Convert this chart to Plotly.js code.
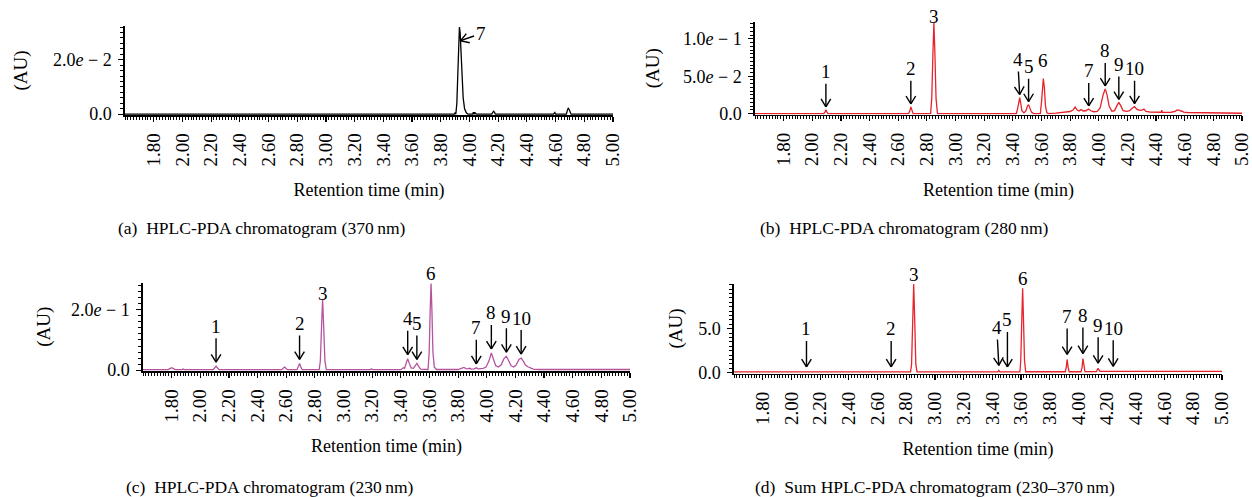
<!DOCTYPE html>
<html>
<head>
<meta charset="utf-8">
<script src="https://cdn.plot.ly/plotly-3.0.1.min.js"></script>
<style>
  html, body { margin: 0; padding: 0; background: #fff; }
  #chart { width: 1252px; height: 497px; }
</style>
</head>
<body>
<div id="chart"></div>
<script>
// ---------- DATA ----------
// (a) 370 nm
const timeA = [1.60, 3.895, 3.900, 3.905, 3.912, 3.918, 3.924, 3.930, 3.935, 3.941, 3.948, 3.956, 3.966, 3.978, 3.990,
               4.022, 4.027, 4.032, 4.037, 4.042, 4.047, 4.155, 4.162, 4.168, 4.174, 4.180,
               4.585, 4.590, 4.595, 4.600, 4.675, 4.682, 4.688, 4.694, 4.700, 4.708, 5.00];
const absA  = [0, 0, 0.0006, 0, 0.004, 0.014, 0.026, 0.032, 0.030, 0.022, 0.013, 0.006, 0.002, 0.0005, 0,
               0, 0.0007, 0, 0.0007, 0, 0, 0, 0.0008, 0.0011, 0.0008, 0,
               0, 0.0006, 0.0006, 0, 0, 0.0014, 0.0022, 0.0018, 0.0008, 0, 0];

// (b) 280 nm
const timeB = [1.60, 2.080, 2.088, 2.095, 2.102, 2.110, 2.672, 2.680, 2.688, 2.696, 2.704,
               2.826, 2.834, 2.842, 2.849, 2.856, 2.864, 2.874,
               3.425, 3.435, 3.442, 3.448, 3.455, 3.463, 3.478, 3.492, 3.502, 3.510, 3.518, 3.530, 3.545,
               3.592, 3.600, 3.607, 3.613, 3.620, 3.628, 3.638, 3.650,
               3.700, 3.760, 3.800, 3.822, 3.835, 3.848, 3.862, 3.877, 3.892, 3.910, 3.928, 3.945, 3.965,
               3.990, 4.010, 4.030, 4.045, 4.058, 4.072, 4.092, 4.110, 4.125, 4.140, 4.155, 4.170,
               4.195, 4.215, 4.235, 4.250, 4.265, 4.285, 4.300, 4.315, 4.330, 4.360,
               4.437, 4.440, 4.443, 4.500, 4.530, 4.548, 4.565, 4.575, 4.582, 4.592, 4.620, 4.800, 5.000];
const absB  = [0, 0, 0.002, 0.005, 0.002, 0, 0, 0.003, 0.009, 0.004, 0,
               0, 0.02, 0.08, 0.121, 0.08, 0.02, 0,
               0, 0.008, 0.018, 0.0215, 0.014, 0.004, 0.001, 0.004, 0.010, 0.012, 0.008, 0.002, 0,
               0, 0.015, 0.040, 0.047, 0.035, 0.010, 0.001, 0,
               0.0006, 0.0015, 0.0028, 0.005, 0.0088, 0.005, 0.0035, 0.0053, 0.0035, 0.0038, 0.0062, 0.0038, 0.0025,
               0.003, 0.008, 0.025, 0.033, 0.025, 0.010, 0.0032, 0.004, 0.010, 0.015, 0.010, 0.004,
               0.003, 0.004, 0.0075, 0.0093, 0.006, 0.0042, 0.0045, 0.006, 0.003, 0.0019,
               0.0018, 0.0045, 0.0018, 0.0017, 0.0028, 0.0049, 0.0042, 0.0030, 0.0036, 0.0020, 0.0015, 0.0009, 0.0005];

// (c) 230 nm
const timeC = [1.60, 1.775, 1.788, 1.800, 1.812, 1.825, 1.872, 1.880, 1.888,
               2.090, 2.100, 2.110, 2.120, 2.132, 2.568, 2.578, 2.588, 2.598, 2.608,
               2.675, 2.684, 2.693, 2.702, 2.711, 2.830, 2.838, 2.847, 2.854, 2.861, 2.870, 2.880,
               3.185, 3.195, 3.205, 3.400, 3.410, 3.418, 3.426, 3.438, 3.448, 3.458, 3.472,
               3.488, 3.500, 3.512, 3.522, 3.538, 3.590, 3.598, 3.605, 3.611, 3.617, 3.624, 3.634, 3.650,
               3.800, 3.825, 3.840, 3.855, 3.868, 3.880, 3.893, 3.912, 3.927, 3.940, 3.955, 3.975, 3.995,
               4.015, 4.032, 4.046, 4.062, 4.080, 4.100, 4.120, 4.137, 4.152, 4.170, 4.188,
               4.205, 4.225, 4.240, 4.255, 4.270, 4.287, 4.305, 4.325, 4.360, 5.000];
const absC  = [0.0015, 0.0015, 0.005, 0.0077, 0.005, 0.0015, 0.0015, 0.0035, 0.0015,
               0.0015, 0.007, 0.013, 0.007, 0.0015, 0.0015, 0.006, 0.010, 0.006, 0.0015,
               0.0015, 0.010, 0.022, 0.010, 0.0015, 0.0015, 0.03, 0.15, 0.235, 0.15, 0.03, 0.002,
               0.0015, 0.004, 0.0015, 0.0015, 0.005, 0.008, 0.006, 0.022, 0.038, 0.024, 0.007,
               0.006, 0.015, 0.022, 0.014, 0.003, 0.002, 0.06, 0.20, 0.288, 0.20, 0.06, 0.01, 0.002,
               0.002, 0.006, 0.009, 0.005, 0.004, 0.006, 0.003, 0.004, 0.0075, 0.004, 0.004, 0.006, 0.010,
               0.030, 0.057, 0.036, 0.015, 0.010, 0.017, 0.038, 0.046, 0.032, 0.014, 0.010,
               0.017, 0.035, 0.040, 0.030, 0.017, 0.011, 0.006, 0.003, 0.002, 0.002];

// (d) sum 230–370 nm
const timeD = [1.60, 2.830, 2.837, 2.845, 2.852, 2.859, 2.867, 2.875,
               3.438, 3.445, 3.452, 3.592, 3.598, 3.605, 3.611, 3.617, 3.624, 3.632,
               3.908, 3.915, 3.921, 3.928, 3.935, 4.018, 4.025, 4.031, 4.038, 4.045,
               4.125, 4.132, 4.137, 4.143, 4.150, 4.300, 5.000];
const absD  = [0.08, 0.08, 0.9, 6.0, 10.1, 6.0, 0.9, 0.08,
               0.08, 0.25, 0.08, 0.08, 1.4, 6.0, 9.6, 6.0, 1.4, 0.1,
               0.1, 0.6, 1.5, 0.6, 0.1, 0.1, 0.6, 1.6, 0.6, 0.12,
               0.12, 0.35, 0.5, 0.3, 0.15, 0.15, 0.15];

// peak labels (numbers) with retention time and apex height
const peakLabels = ['1', '2', '3', '4', '5', '6', '7', '8', '9', '10'];
const peakTimeB = [2.095, 2.688, 2.849, 3.448, 3.510, 3.613, 3.930, 4.045, 4.140, 4.250];
const peakTopB  = [0.005, 0.009, 0.121, 0.0215, 0.012, 0.047, 0.0062, 0.033, 0.015, 0.0093];
const peakTimeC = [2.110, 2.693, 2.854, 3.448, 3.512, 3.611, 3.927, 4.032, 4.137, 4.240];
const peakTopC  = [0.013, 0.022, 0.235, 0.038, 0.022, 0.288, 0.0075, 0.057, 0.046, 0.040];
const peakTimeD = [2.105, 2.695, 2.852, 3.445, 3.505, 3.611, 3.921, 4.031, 4.137, 4.242];
const peakTopD  = [0.08, 0.08, 10.1, 0.25, 0.08, 9.6, 1.5, 1.6, 0.5, 0.15];
const peakLabelA = '7';
const peakTimeA = 3.938;
const peakFlankA = 0.027;

// axis ticks
const xTickVals = [1.8, 2.0, 2.2, 2.4, 2.6, 2.8, 3.0, 3.2, 3.4, 3.6, 3.8, 4.0, 4.2, 4.4, 4.6, 4.8, 5.0];
const xTickText = ['1.80', '2.00', '2.20', '2.40', '2.60', '2.80', '3.00', '3.20', '3.40', '3.60', '3.80',
                   '4.00', '4.20', '4.40', '4.60', '4.80', '5.00'];
const yTickValsA = [0, 0.02];
const yTickTextA = ['0.0', '2.0<i>e</i> − 2'];
const yTickValsB = [0, 0.05, 0.1];
const yTickTextB = ['0.0', '5.0<i>e</i> − 2', '1.0<i>e</i> − 1'];
const yTickValsC = [0, 0.2];
const yTickTextC = ['0.0', '2.0<i>e</i> − 1'];
const yTickValsD = [0, 5];
const yTickTextD = ['0.0', '5.0'];

const captions = [
  '(a)\u00a0\u00a0HPLC-PDA chromatogram (370\u2009nm)',
  '(b)\u00a0\u00a0HPLC-PDA chromatogram (280\u2009nm)',
  '(c)\u00a0\u00a0HPLC-PDA chromatogram (230\u2009nm)',
  '(d)\u00a0\u00a0Sum HPLC-PDA chromatogram (230–370\u2009nm)'
];
const xTitle = 'Retention time (min)';
const yTitle = '(AU)';

// ---------- LAYOUT HELPERS ----------
const W = 1252, H = 497;
const px = v => v / W;
const py = v => 1 - v / H;
const FONT = '"Liberation Serif", "Times New Roman", serif';
const RED = '#e8232b', PURPLE = '#b5539f';

function xAxis(anchor, x0, x1) {
  return {
    anchor, domain: [px(x0), px(x1)], range: [1.6, 5.0],
    showline: true, linecolor: '#000', linewidth: 1.7, mirror: false,
    showgrid: false, zeroline: false,
    ticks: 'outside', ticklen: 5, tickwidth: 1.2, tickcolor: '#000',
    tickmode: 'array', tickvals: xTickVals, ticktext: xTickText,
    tickangle: -90, tickfont: {size: 19}, ticklabelstandoff: 4, ticklabeloverflow: 'allow',
    minor: {tickmode: 'linear', tick0: 0, dtick: 0.02, ticks: 'outside', ticklen: 3, tickwidth: 1, tickcolor: '#000', showgrid: false},
    title: {text: xTitle, font: {size: 18}, standoff: 18},
    fixedrange: true
  };
}
function yAxis(anchor, yTop, yBot, range, vals, text, minorStep, titleGap) {
  return {
    anchor, domain: [py(yBot), py(yTop)], range,
    showline: true, linecolor: '#000', linewidth: 1.7,
    showgrid: false, zeroline: false,
    ticks: 'outside', ticklen: 5, tickwidth: 1.2, tickcolor: '#000',
    tickmode: 'array', tickvals: vals, ticktext: text,
    tickfont: {size: 18}, ticklabelstandoff: 3, ticklabeloverflow: 'allow',
    minor: {tickmode: 'linear', tick0: 0, dtick: minorStep, ticks: 'outside', ticklen: 3, tickwidth: 1, tickcolor: '#000', showgrid: false},
    title: {text: yTitle, font: {size: 19}, standoff: titleGap},
    fixedrange: true
  };
}

// ---------- ANNOTATIONS ----------
const annotations = [];
const ARM = 11, ARM_ANGLE = 0.55;
function addArrow(xr, yr, x, y, label, dx, dy, lift) {
  annotations.push({xref: xr, yref: yr, x, y, text: label, showarrow: true, arrowhead: 0,
    arrowwidth: 1.4, arrowcolor: '#000', ax: dx, ay: dy, yshift: lift, font: {size: 19}});
  const len = Math.hypot(dx, dy), ux = dx / len, uy = dy / len;
  [1, -1].forEach(s => {
    const a = s * ARM_ANGLE;
    const rx = ux * Math.cos(a) - uy * Math.sin(a);
    const ry = ux * Math.sin(a) + uy * Math.cos(a);
    annotations.push({xref: xr, yref: yr, x, y, text: '', showarrow: true, arrowhead: 0,
      arrowwidth: 1.4, arrowcolor: '#000', ax: rx * ARM, ay: ry * ARM, yshift: lift});
  });
}
function addPeakLabels(xr, yr, times, tops, lift, dy, special) {
  peakLabels.forEach((lab, i) => {
    if (lab === '3' || lab === '6') {
      annotations.push({xref: xr, yref: yr, x: times[i], y: tops[i], text: lab, showarrow: false,
        yanchor: 'bottom', yshift: (special && special['top' + lab]) || -3, font: {size: 19}});
    } else {
      const o = (special && special[lab]) || {};
      addArrow(xr, yr, times[i], tops[i], lab, o.dx || 0, o.dy || dy, lift);
    }
  });
}
addArrow('x', 'y', peakTimeA, peakFlankA, peakLabelA, 20, -7, 0);
addPeakLabels('x2', 'y2', peakTimeB, peakTopB, 3, -35, {'4': {dx: -2, dy: -35}, top6: 5, top3: -6});
addPeakLabels('x3', 'y3', peakTimeC, peakTopC, 4, -36, {top3: -7});
addPeakLabels('x4', 'y4', peakTimeD, peakTopD, 5, -38, {'4': {dx: -2, dy: -38}, '5': {dx: 0, dy: -47}});

const capPos = [[262, 228], [904, 228], [270, 487], [935, 487]];
captions.forEach((c, i) => {
  annotations.push({xref: 'paper', yref: 'paper', x: px(capPos[i][0]), y: py(capPos[i][1]),
    xanchor: 'center', yanchor: 'middle', text: c, showarrow: false, font: {size: 17.5}});
});

// ---------- TRACES ----------
function trace(t, v, xa, ya, color) {
  return {x: t, y: v, xaxis: xa, yaxis: ya, type: 'scatter', mode: 'lines',
          line: {color, width: 1.3, shape: 'linear'}, hoverinfo: 'skip'};
}
const data = [
  trace(timeA, absA, 'x', 'y', '#000'),
  trace(timeB, absB, 'x2', 'y2', RED),
  trace(timeC, absC, 'x3', 'y3', PURPLE),
  trace(timeD, absD, 'x4', 'y4', RED)
];

const layout = {
  width: W, height: H,
  margin: {l: 0, r: 0, t: 0, b: 0},
  paper_bgcolor: '#fff', plot_bgcolor: 'rgba(0,0,0,0)',
  font: {family: FONT, color: '#000', size: 18},
  showlegend: false,
  xaxis:  xAxis('y', 125, 613),
  yaxis:  yAxis('x', 26, 115, [-0.0003, 0.0324], yTickValsA, yTickTextA, 0.002, 20),
  xaxis2: xAxis('y2', 755, 1242),
  yaxis2: yAxis('x2', 22, 114.5, [-0.0012, 0.1225], yTickValsB, yTickTextB, 0.005, 18),
  xaxis3: xAxis('y3', 143, 630),
  yaxis3: yAxis('x3', 282.5, 371, [-0.003, 0.291], yTickValsC, yTickTextC, 0.02, 15),
  xaxis4: xAxis('y4', 734, 1222),
  yaxis4: yAxis('x4', 283.5, 373.5, [-0.1, 10.15], yTickValsD, yTickTextD, 0.5, 10),
  annotations
};

Plotly.newPlot('chart', data, layout, {displayModeBar: false, staticPlot: true});
</script>
</body>
</html>
